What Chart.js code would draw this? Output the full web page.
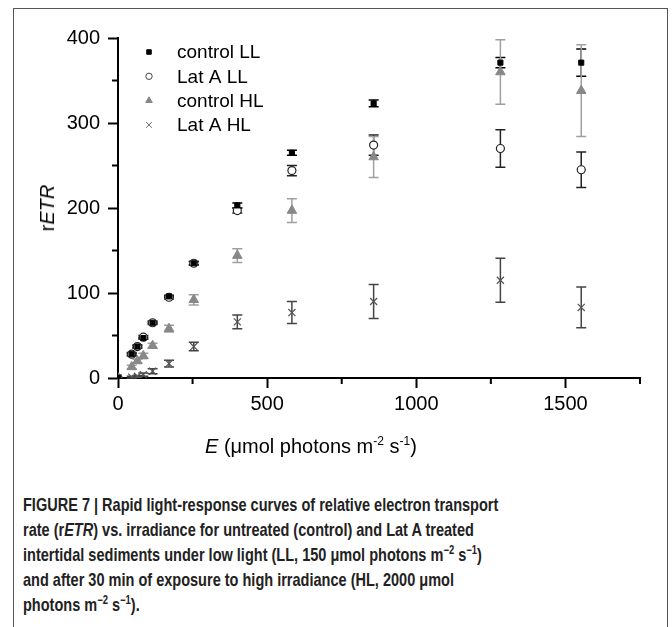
<!DOCTYPE html>
<html>
<head>
<meta charset="utf-8">
<script src="https://cdn.jsdelivr.net/npm/chart.js@4"></script>
<style>
  html, body { margin: 0; padding: 0; background: #fff; }
  body { width: 672px; height: 627px; position: relative; overflow: hidden; font-family: "Liberation Sans", Arial, sans-serif; }
  #frame { position: absolute; left: 13px; top: 8px; width: 655px; height: 640px; border: 1.5px solid #555; box-sizing: border-box; }
  #chart { position: absolute; left: 0; top: 0; }
  .axis-title { position: absolute; font-size: 20px; color: #000; white-space: nowrap; line-height: 1; }
  .axis-title sup { font-size: 12px; vertical-align: 8px; }
  #xTitle { left: 205px; top: 435px; }
  #yTitle { left: 47px; top: 208px; transform: translate(-50%, -50%) rotate(-90deg); }
  #caption { position: absolute; left: 23px; top: 492px; width: 820px; white-space: nowrap; transform: scaleX(0.785); transform-origin: 0 0; font-family: "Liberation Sans", Arial, sans-serif; font-weight: bold; font-size: 18.5px; line-height: 25px; color: #222; }
  #caption sup { font-size: 12px; line-height: 0; vertical-align: 7px; }
</style>
</head>
<body>
<div id="frame"></div>
<canvas id="chart" width="672" height="470"></canvas>
<div id="yTitle" class="axis-title">r<i>ETR</i></div>
<div id="xTitle" class="axis-title"><i>E</i> (μmol photons m<sup>-2</sup> s<sup>-1</sup>)</div>
<div id="caption">FIGURE 7 | Rapid light-response curves of relative electron transport<br>rate (r<i>ETR</i>) vs. irradiance for untreated (control) and Lat A treated<br>intertidal sediments under low light (LL, 150 μmol photons m<sup>−2</sup> s<sup>−1</sup>)<br>and after 30 min of exposure to high irradiance (HL, 2000 μmol<br>photons m<sup>−2</sup> s<sup>−1</sup>).</div>

<script>
// irradiance steps of the light curve
const irradiance = [0, 46, 65, 85, 116, 171, 254, 400, 583, 857, 1282, 1553];

// rETR means and error (±) per treatment
const controlLL = [0, 28, 37, 47, 65, 96, 135, 203, 265, 323, 371, 371];
const controlLLErr = [0, 1, 1, 1, 1, 1, 2, 3, 3, 4, 6, 16];
const latALL = [0, 28, 37, 48, 65, 95, 135, 197, 244, 274, 270, 245];
const latALLErr = [0, 2, 2, 2, 2, 2, 2, 3, 6, 12, 22, 21];
const controlHL = [0, 13, 20, 26, 38, 58, 92, 144, 197, 260, 360, 338];
const controlHLErr = [0, 2, 2, 3, 3, 4, 6, 8, 14, 24, 38, 54];
const latAHL = [0, 1, 2, 4, 8, 17, 37, 66, 77, 90, 115, 83];
const latAHLErr = [0, 1, 1, 2, 3, 4, 5, 8, 13, 20, 26, 24];

const seriesNames = ['control LL', 'Lat A LL', 'control HL', 'Lat A HL'];

function toPoints(values, errs) {
    return irradiance.map((e, i) => ({ x: e, y: values[i], err: errs[i] }));
}

const AXIS_FONT = { family: '"Liberation Sans", Arial, sans-serif', size: 20 };

// vertical error bars with caps, drawn under the markers
const errorBars = {
    id: 'errorBars',
    beforeDatasetsDraw(chart) {
        const ctx = chart.ctx;
        const xs = chart.scales.x, ys = chart.scales.y;
        ctx.save();
        chart.data.datasets.forEach(ds => {
            ctx.strokeStyle = ds.barColor;
            ctx.lineWidth = 1.5;
            ds.data.forEach(p => {
                if (!p.err) return;
                const px = xs.getPixelForValue(p.x);
                const top = ys.getPixelForValue(p.y + p.err);
                const bot = ys.getPixelForValue(p.y - p.err);
                ctx.beginPath();
                ctx.moveTo(px, top); ctx.lineTo(px, bot);
                ctx.moveTo(px - 5, top); ctx.lineTo(px + 5, top);
                ctx.moveTo(px - 5, bot); ctx.lineTo(px + 5, bot);
                ctx.stroke();
            });
        });
        ctx.restore();
    }
};

// short minor ticks between the labelled ones
const minorTicks = {
    id: 'minorTicks',
    afterDraw(chart) {
        const ctx = chart.ctx;
        const xs = chart.scales.x, ys = chart.scales.y;
        const area = chart.chartArea;
        ctx.save();
        ctx.strokeStyle = '#000';
        ctx.lineWidth = 2;
        ctx.beginPath();
        xs.ticks.forEach(t => {
            if (t.value % 500 === 0) return;
            const px = xs.getPixelForValue(t.value);
            ctx.moveTo(px, area.bottom); ctx.lineTo(px, area.bottom + 6);
        });
        ys.ticks.forEach(t => {
            if (t.value % 100 === 0) return;
            const py = ys.getPixelForValue(t.value);
            ctx.moveTo(area.left, py); ctx.lineTo(area.left - 6, py);
        });
        ctx.stroke();
        ctx.restore();
    }
};

// legend inside the plot, upper left
const insideLegend = {
    id: 'insideLegend',
    afterDraw(chart) {
        const ctx = chart.ctx;
        ctx.save();
        ctx.font = '19px "Liberation Sans", Arial, sans-serif';
        ctx.textBaseline = 'middle';
        chart.data.datasets.forEach((ds, i) => {
            const y = 52 + i * 24.3;
            ctx.fillStyle = ds.legendFill;
            ctx.strokeStyle = ds.legendStroke;
            ctx.lineWidth = 1;
            Chart.helpers.drawPoint(ctx, { pointStyle: ds.pointStyle, radius: ds.legendRadius, rotation: 0, borderWidth: 1 }, 149, y);
            ctx.fillStyle = '#000';
            ctx.fillText(ds.label, 177, y + 1);
        });
        ctx.restore();
    }
};

const chart = new Chart(document.getElementById('chart'), {
    type: 'scatter',
    data: {
        datasets: [
            {
                label: seriesNames[0], data: toPoints(controlLL, controlLLErr),
                pointStyle: 'rect', pointRadius: 3.6, backgroundColor: '#000', borderColor: '#000', borderWidth: 1,
                barColor: '#000', legendFill: '#000', legendStroke: '#000', legendRadius: 3.2
            },
            {
                label: seriesNames[1], data: toPoints(latALL, latALLErr),
                pointStyle: 'circle', pointRadius: 4, backgroundColor: '#fff', borderColor: '#222', borderWidth: 1.2,
                barColor: '#222', legendFill: '#fff', legendStroke: '#444', legendRadius: 3.2
            },
            {
                label: seriesNames[2], data: toPoints(controlHL, controlHLErr),
                pointStyle: 'triangle', pointRadius: 5.5, backgroundColor: '#888', borderColor: '#888', borderWidth: 1,
                barColor: '#a0a0a0', legendFill: '#888', legendStroke: '#888', legendRadius: 3.8
            },
            {
                label: seriesNames[3], data: toPoints(latAHL, latAHLErr),
                pointStyle: 'crossRot', pointRadius: 5, backgroundColor: '#555', borderColor: '#555', borderWidth: 1.2,
                barColor: '#444', legendFill: '#666', legendStroke: '#666', legendRadius: 4
            }
        ]
    },
    options: {
        responsive: false,
        animation: false,
        layout: { padding: { top: 38, right: 32, left: 0, bottom: 0 } },
        plugins: { legend: { display: false }, tooltip: { enabled: false } },
        scales: {
            x: {
                type: 'linear', min: 0, max: 1750,
                afterFit(scale) { scale.height = 92; },
                ticks: {
                    stepSize: 250, autoSkip: false, maxRotation: 0, padding: 4,
                    color: '#000', font: AXIS_FONT,
                    callback: v => (v % 500 === 0 ? v : '')
                },
                grid: {
                    drawOnChartArea: false, tickLength: 10, tickWidth: 2,
                    tickColor: c => (c.tick && c.tick.value % 500 === 0 ? '#000' : 'rgba(0,0,0,0)')
                },
                border: { color: '#000', width: 2 }
            },
            y: {
                min: 0, max: 400,
                afterFit(scale) { scale.width = 118; },
                ticks: {
                    stepSize: 50, autoSkip: false, padding: 8,
                    color: '#000', font: AXIS_FONT,
                    callback: v => (v % 100 === 0 ? v : '')
                },
                grid: {
                    drawOnChartArea: false, tickLength: 10, tickWidth: 2,
                    tickColor: c => (c.tick && c.tick.value % 100 === 0 ? '#000' : 'rgba(0,0,0,0)')
                },
                border: { color: '#000', width: 2 }
            }
        }
    },
    plugins: [errorBars, minorTicks, insideLegend]
});
</script>
</body>
</html>
